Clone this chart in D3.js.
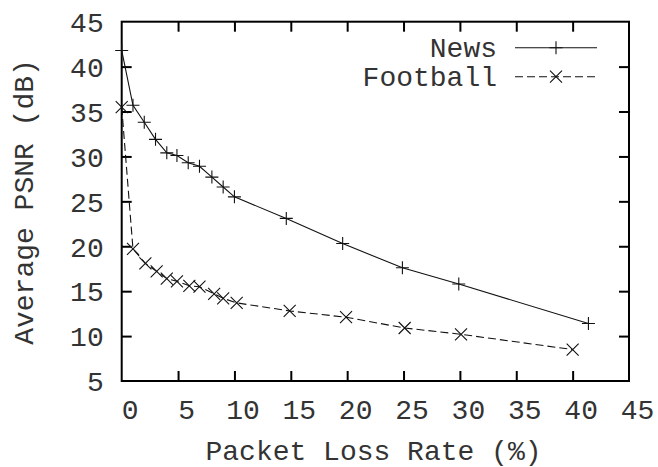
<!DOCTYPE html>
<html>
<head>
<meta charset="utf-8">
<script src="https://cdn.jsdelivr.net/npm/d3@7"></script>
<style>
  html, body { margin: 0; padding: 0; background: #fff; }
  svg { display: block; }
  text { font-family: "Liberation Mono", "Courier New", monospace; fill: #333; }
</style>
</head>
<body>
<svg id="chart" width="658" height="467"></svg>
<script>
// Average PSNR versus packet loss rate for two test sequences
const newsLoss = [0, 1.0, 2.0, 3.0, 4.0, 4.9, 5.9, 6.9, 8.0, 9.0, 10.0, 14.6, 19.6, 24.9, 29.9, 41.4];
const newsPsnr = [41.8, 35.7, 33.8, 31.9, 30.4, 30.1, 29.3, 28.9, 27.7, 26.6, 25.5, 23.1, 20.3, 17.6, 15.8, 11.4];
const footballLoss = [0, 1.0, 2.1, 3.1, 4.0, 4.9, 6.0, 6.9, 8.2, 9.0, 10.2, 14.9, 19.9, 25.1, 30.1, 40.0];
const footballPsnr = [35.5, 19.7, 18.1, 17.2, 16.4, 16.1, 15.6, 15.5, 14.7, 14.2, 13.7, 12.8, 12.1, 10.9, 10.2, 8.5];
const xTicks = [0, 5, 10, 15, 20, 25, 30, 35, 40, 45];
const yTicks = [5, 10, 15, 20, 25, 30, 35, 40, 45];
const seriesNames = ["News", "Football"];

const svg = d3.select("#chart");
const plotLeft = 121.7, plotRight = 629, plotTop = 21.7, plotBottom = 381;
const fontSize = 28;

const x = d3.scaleLinear().domain([0, 45]).range([plotLeft, plotRight]);
const y = d3.scaleLinear().domain([5, 45]).range([plotBottom, plotTop]);

// inward ticks on all four sides
function styleAxis(g) {
  g.select(".domain").remove();
  g.selectAll(".tick line").attr("stroke", "#000").attr("stroke-width", 2);
  g.selectAll("text").attr("font-size", fontSize).attr("font-family", "Liberation Mono, Courier New, monospace").attr("fill", "#333");
}

const gx = svg.append("g").attr("transform", `translate(0,${plotBottom})`)
  .call(d3.axisBottom(x).tickValues(xTicks).tickSizeInner(-10).tickSizeOuter(0).tickFormat(d3.format("d")))
  .call(styleAxis);
gx.selectAll(".tick text").attr("y", 38).attr("dy", null).attr("dx", 8);
gx.selectAll(".tick").filter(d => d === 0 || d === 45).select("line").remove();

svg.append("g").attr("transform", `translate(0,${plotTop})`)
  .call(d3.axisTop(x).tickValues(xTicks.slice(1, -1)).tickSizeInner(-10).tickSizeOuter(0).tickFormat(""))
  .call(styleAxis);

const gy = svg.append("g").attr("transform", `translate(${plotLeft},0)`)
  .call(d3.axisLeft(y).tickValues(yTicks).tickSizeInner(-10).tickSizeOuter(0).tickFormat(d3.format("d")))
  .call(styleAxis);
gy.selectAll(".tick text").attr("x", -18).attr("dy", "0.35em");
gy.selectAll(".tick").filter(d => d === 5 || d === 45).select("line").remove();

svg.append("g").attr("transform", `translate(${plotRight},0)`)
  .call(d3.axisRight(y).tickValues(yTicks.slice(1, -1)).tickSizeInner(-10).tickSizeOuter(0).tickFormat(""))
  .call(styleAxis);

// plot border
svg.append("rect")
  .attr("x", plotLeft).attr("y", plotTop)
  .attr("width", plotRight - plotLeft).attr("height", plotBottom - plotTop)
  .attr("fill", "none").attr("stroke", "#000").attr("stroke-width", 2);

// axis titles
svg.append("text")
  .attr("x", 373.5).attr("y", 460)
  .attr("text-anchor", "middle").attr("font-size", fontSize)
  .text("Packet Loss Rate (%)");

svg.append("text")
  .attr("transform", `translate(33,202) rotate(-90)`)
  .attr("text-anchor", "middle").attr("font-size", fontSize)
  .text("Average PSNR (dB)");

// point markers
function plusPath(cx, cy, r) {
  return `M${cx - r},${cy}H${cx + r}M${cx},${cy - r}V${cy + r}`;
}
function crossPath(cx, cy, r) {
  return `M${cx - r},${cy - r}L${cx + r},${cy + r}M${cx - r},${cy + r}L${cx + r},${cy - r}`;
}

const line = d3.line().x(d => x(d[0])).y(d => y(d[1]));
const newsData = d3.zip(newsLoss, newsPsnr);
const footballData = d3.zip(footballLoss, footballPsnr);

const series = [
  { name: seriesNames[0], data: newsData, dash: null, marker: plusPath, r: 6.5 },
  { name: seriesNames[1], data: footballData, dash: "8,4", marker: crossPath, r: 6 }
];

series.forEach(s => {
  svg.append("path")
    .attr("d", line(s.data))
    .attr("fill", "none").attr("stroke", "#111").attr("stroke-width", 1.1)
    .attr("stroke-dasharray", s.dash);
  svg.append("path")
    .attr("d", s.data.map(d => s.marker(x(d[0]), y(d[1]), s.r)).join(""))
    .attr("fill", "none").attr("stroke", "#111").attr("stroke-width", 1.1);
});

// legend
const legendRows = [47.7, 76.7];
series.forEach((s, i) => {
  const ly = legendRows[i];
  svg.append("text")
    .attr("x", 497).attr("y", ly).attr("dy", "0.32em")
    .attr("text-anchor", "end").attr("font-size", fontSize)
    .text(s.name);
  svg.append("path")
    .attr("d", `M515,${ly}H597`)
    .attr("stroke", "#111").attr("stroke-width", 1.1)
    .attr("stroke-dasharray", s.dash);
  svg.append("path")
    .attr("d", s.marker(556, ly, s.r))
    .attr("fill", "none").attr("stroke", "#111").attr("stroke-width", 1.1);
});
</script>
</body>
</html>
